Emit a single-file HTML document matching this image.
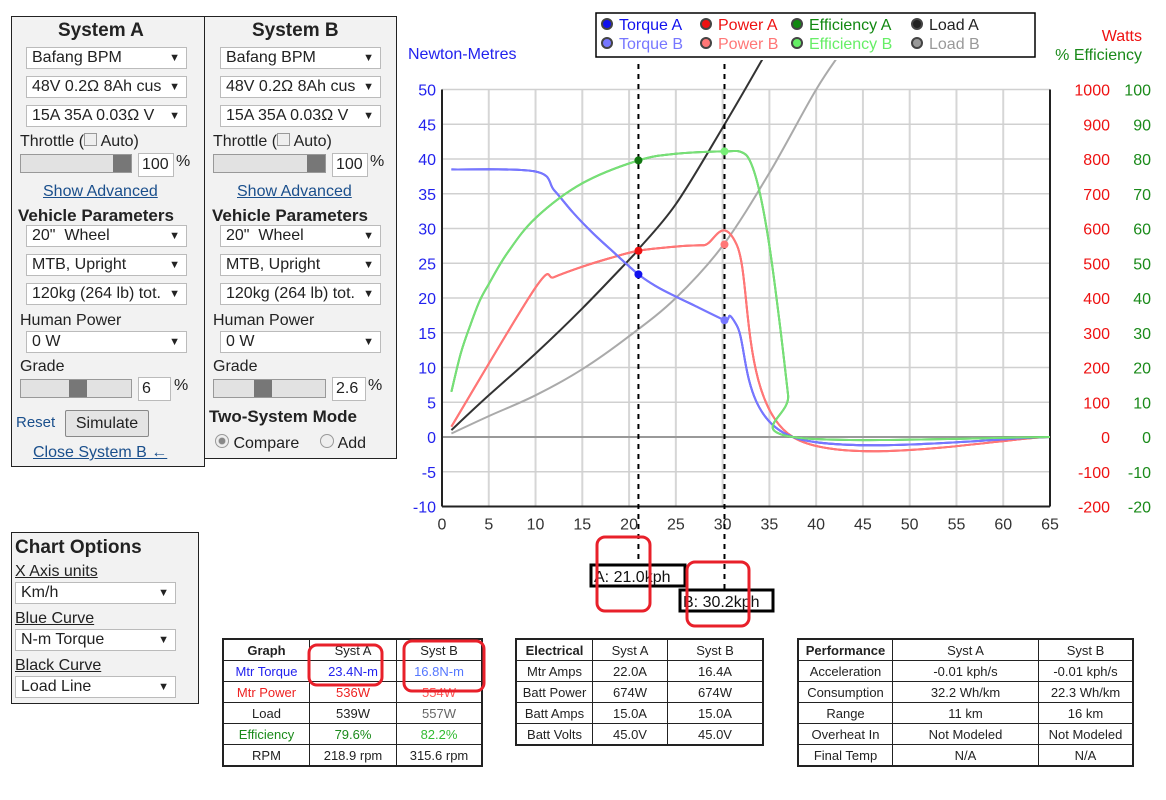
<!DOCTYPE html>
<html><head><meta charset="utf-8">
<style>
body{margin:0;width:1166px;height:800px;position:relative;background:#fff;font-family:"Liberation Sans",sans-serif;color:#222;overflow:hidden}
.abs{position:absolute}
.panel{position:absolute;background:#f2f2f2;border:1px solid #222;box-sizing:border-box}
.sel{position:absolute;height:22px;background:#fff;border:1px solid #bbb;box-sizing:border-box;font-size:16px;line-height:20px;padding-left:5px;white-space:nowrap;overflow:hidden}
.sel:after{content:"▼";position:absolute;right:6px;top:0;font-size:11px}
.lbl{position:absolute;font-size:16px;white-space:nowrap}
.h{position:absolute;font-weight:bold;white-space:nowrap}
.lnk{position:absolute;font-size:16px;color:#1a4f8c;text-decoration:underline;white-space:nowrap}
.slider{position:absolute;height:19px;background:#e2e2e2;border:1px solid #999;box-sizing:border-box}
.thumb{position:absolute;top:0;width:18px;height:17px;background:#777}
.inp{position:absolute;background:#fff;border:1px solid #bbb;box-sizing:border-box;font-size:16px;padding-left:3px;line-height:22px}
table{position:absolute;border-collapse:collapse;font-size:13px;background:#fff}
td{border:1px solid #222;text-align:center;height:20px;padding:0}
table{border:2px solid #222}
</style></head><body>

<div class="panel" style="left:11px;top:16px;width:194px;height:451px">
</div>
<div class="h" style="left:58px;top:20px;font-size:19px">System A</div>
<div class="sel" style="left:26px;top:47px;width:161px">Bafang BPM</div>
<div class="sel" style="left:26px;top:76px;width:161px">48V 0.2Ω 8Ah cus</div>
<div class="sel" style="left:26px;top:105px;width:161px">15A 35A 0.03Ω V</div>
<div class="lbl" style="left:20px;top:133px">Throttle (<span style="display:inline-block;width:11px;height:11px;border:1px solid #999;background:#eee"></span> Auto)</div>
<div class="slider" style="left:20px;top:154px;width:112px"><div class="thumb" style="left:92px"></div></div>
<div class="inp" style="left:138px;top:153px;width:36px;height:24px">100</div>
<div class="lbl" style="left:176px;top:153px">%</div>
<div class="lnk" style="left:43px;top:183px">Show Advanced</div>
<div class="h" style="left:18px;top:206px;font-size:17px">Vehicle Parameters</div>
<div class="sel" style="left:26px;top:225px;width:161px">20"&nbsp; Wheel</div>
<div class="sel" style="left:26px;top:254px;width:161px">MTB, Upright</div>
<div class="sel" style="left:26px;top:283px;width:161px">120kg (264 lb) tot.</div>
<div class="lbl" style="left:20px;top:312px">Human Power</div>
<div class="sel" style="left:26px;top:331px;width:161px">0 W</div>
<div class="lbl" style="left:20px;top:358px">Grade</div>
<div class="slider" style="left:20px;top:379px;width:112px"><div class="thumb" style="left:48px"></div></div>
<div class="inp" style="left:138px;top:377px;width:33px;height:24px">6</div>
<div class="lbl" style="left:174px;top:377px">%</div>
<div class="lnk" style="left:16px;top:414px;text-decoration:none;font-size:15px">Reset</div>
<div class="abs" style="left:65px;top:410px;width:84px;height:27px;border:1px solid #888;border-radius:2px;background:#e4e4e4;box-sizing:border-box;font-size:16px;text-align:center;line-height:25px">Simulate</div>
<div class="lnk" style="left:33px;top:444px">Close System B ←</div>

<div class="panel" style="left:204px;top:16px;width:193px;height:443px"></div>
<div class="h" style="left:252px;top:20px;font-size:19px">System B</div>
<div class="sel" style="left:220px;top:47px;width:161px">Bafang BPM</div>
<div class="sel" style="left:220px;top:76px;width:161px">48V 0.2Ω 8Ah cus</div>
<div class="sel" style="left:220px;top:105px;width:161px">15A 35A 0.03Ω V</div>
<div class="lbl" style="left:213px;top:133px">Throttle (<span style="display:inline-block;width:11px;height:11px;border:1px solid #999;background:#eee"></span> Auto)</div>
<div class="slider" style="left:213px;top:154px;width:113px"><div class="thumb" style="left:93px"></div></div>
<div class="inp" style="left:332px;top:153px;width:36px;height:24px">100</div>
<div class="lbl" style="left:370px;top:153px">%</div>
<div class="lnk" style="left:237px;top:183px">Show Advanced</div>
<div class="h" style="left:212px;top:206px;font-size:17px">Vehicle Parameters</div>
<div class="sel" style="left:220px;top:225px;width:161px">20"&nbsp; Wheel</div>
<div class="sel" style="left:220px;top:254px;width:161px">MTB, Upright</div>
<div class="sel" style="left:220px;top:283px;width:161px">120kg (264 lb) tot.</div>
<div class="lbl" style="left:213px;top:312px">Human Power</div>
<div class="sel" style="left:220px;top:331px;width:161px">0 W</div>
<div class="lbl" style="left:213px;top:358px">Grade</div>
<div class="slider" style="left:213px;top:379px;width:113px"><div class="thumb" style="left:40px"></div></div>
<div class="inp" style="left:332px;top:377px;width:34px;height:24px">2.6</div>
<div class="lbl" style="left:368px;top:377px">%</div>
<div class="h" style="left:209px;top:407px;font-size:17px">Two-System Mode</div>
<div class="lbl" style="left:215px;top:434px"><span style="display:inline-block;width:12px;height:12px;border-radius:50%;border:1px solid #999;background:radial-gradient(#888 35%,#eee 45%)"></span> Compare</div>
<div class="lbl" style="left:320px;top:434px"><span style="display:inline-block;width:12px;height:12px;border-radius:50%;border:1px solid #999;background:#eee"></span> Add</div>

<div class="panel" style="left:11px;top:532px;width:188px;height:172px"></div>
<div class="h" style="left:15px;top:537px;font-size:19px">Chart Options</div>
<div class="lbl" style="left:15px;top:563px;text-decoration:underline">X Axis units</div>
<div class="sel" style="left:15px;top:582px;width:161px">Km/h</div>
<div class="lbl" style="left:15px;top:610px;text-decoration:underline">Blue Curve</div>
<div class="sel" style="left:15px;top:629px;width:161px">N-m Torque</div>
<div class="lbl" style="left:15px;top:657px;text-decoration:underline">Black Curve</div>
<div class="sel" style="left:15px;top:676px;width:161px">Load Line</div>

<svg id="chart" class="abs" style="left:0;top:0" width="1166" height="800" font-family="Liberation Sans, sans-serif"></svg>

<table style="left:222px;top:638px;width:261px">
<tr><td style="width:85px"><b>Graph</b></td><td style="width:86px">Syst A</td><td>Syst B</td></tr>
<tr style="color:#2222ee"><td>Mtr Torque</td><td>23.4N-m</td><td style="color:#5577ff">16.8N-m</td></tr>
<tr style="color:#ee2222"><td>Mtr Power</td><td>536W</td><td style="color:#ff5555">554W</td></tr>
<tr><td>Load</td><td>539W</td><td style="color:#666">557W</td></tr>
<tr style="color:#1a8a1a"><td>Efficiency</td><td>79.6%</td><td style="color:#33bb33">82.2%</td></tr>
<tr><td>RPM</td><td>218.9 rpm</td><td>315.6 rpm</td></tr>
</table>
<table style="left:515px;top:638px;width:249px">
<tr><td style="width:75px"><b>Electrical</b></td><td style="width:74px">Syst A</td><td>Syst B</td></tr>
<tr><td>Mtr Amps</td><td>22.0A</td><td>16.4A</td></tr>
<tr><td>Batt Power</td><td>674W</td><td>674W</td></tr>
<tr><td>Batt Amps</td><td>15.0A</td><td>15.0A</td></tr>
<tr><td>Batt Volts</td><td>45.0V</td><td>45.0V</td></tr>
</table>
<table style="left:797px;top:638px;width:337px">
<tr><td style="width:93px"><b>Performance</b></td><td style="width:145px">Syst A</td><td>Syst B</td></tr>
<tr><td>Acceleration</td><td>-0.01 kph/s</td><td>-0.01 kph/s</td></tr>
<tr><td>Consumption</td><td>32.2 Wh/km</td><td>22.3 Wh/km</td></tr>
<tr><td>Range</td><td>11 km</td><td>16 km</td></tr>
<tr><td>Overheat In</td><td>Not Modeled</td><td>Not Modeled</td></tr>
<tr><td>Final Temp</td><td>N/A</td><td>N/A</td></tr>
</table>

<svg class="abs" style="left:0;top:0;pointer-events:none" width="1166" height="800">
<g fill="none" stroke="#e8202a" stroke-width="3">
<rect x="597" y="537" width="53" height="74" rx="8"/>
<rect x="687" y="562" width="62" height="64" rx="8"/>
<rect x="309" y="645" width="73" height="40" rx="8"/>
<rect x="404" y="641" width="80" height="50" rx="8"/>
</g></svg>

<script>
const xTicks=[0,5,10,15,20,25,30,35,40,45,50,55,60,65];
const yTicks=[-10,-5,0,5,10,15,20,25,30,35,40,45,50];
const wattTicks=[-200,-100,0,100,200,300,400,500,600,700,800,900,1000];
const effTicks=[-20,-10,0,10,20,30,40,50,60,70,80,90,100];
const torqueX=[1,10,12,14,16,18,21,23,25,27,30.2,31.5,37.5,65];
const torqueY=[38.5,38.2,35.5,32.3,29.5,27,23.4,21.6,20.2,18.9,16.8,16.1,0,0];
const powerX=[1,10,12,15,18,21,25,28,31.5,37.5,65];
const powerW=[30,430,460,490,515,536,548,552,554,0,0];
const effX=[1,2,3,4,5,7,10,15,21,25,30.2,32,33,34,35,36,37,37.5,65];
const effP=[13,24,32,39,44,53,63,73,79.6,81.5,82.2,82,79,70,55,35,12,0,0];
const loadAX=[1,5,10,15,20,21,25,30,34,36];
const loadAW=[20,120,240,370,510,540,670,890,1075,1170];
const loadBX=[1,5,10,15,20,25,30,35,40,43];
const loadBW=[10,60,120,195,290,400,550,760,1000,1120];
const markerA=21.0, markerB=30.2;
const dotsA=[23.4,536,79.6]; const dotsB=[16.8,554,82.2];

const NS="http://www.w3.org/2000/svg";
const svg=document.getElementById('chart');
const X=v=>442+v*(608/65);
const Y=v=>437-v*(417/60);
const YW=w=>Y(w/20);
const YE=e=>Y(e/2);
function mk(tag,attrs,parent){const e=document.createElementNS(NS,tag);for(const k in attrs)e.setAttribute(k,attrs[k]);(parent||svg).appendChild(e);return e;}
const defs=mk('defs',{});const cp=mk('clipPath',{id:'clip'},defs);mk('rect',{x:442,y:60,width:608,height:450},cp);

xTicks.forEach(t=>{const l=mk('line',{x1:X(t),x2:X(t),y1:Y(50),y2:Y(-10),stroke:'#d6d6d6','stroke-width':2});


const tx=mk('text',{x:X(t),y:Y(-10)+23,'text-anchor':'middle','font-size':16,fill:'#333'});tx.textContent=t;

});
yTicks.forEach((t,i)=>{const l=mk('line',{x1:X(0),x2:X(65),y1:Y(t),y2:Y(t),stroke:t==0?'#999':'#d0d0d0','stroke-width':t==0?2:1.5});


const tx=mk('text',{x:436,y:Y(t)+6,'text-anchor':'end','font-size':16,fill:'#2222ee'});tx.textContent=t;


const tw=mk('text',{x:1110,y:Y(t)+6,'text-anchor':'end','font-size':16,fill:'#ee1111'});tw.textContent=wattTicks[i];


const te=mk('text',{x:1151,y:Y(t)+6,'text-anchor':'end','font-size':16,fill:'#1a8a1a'});te.textContent=effTicks[i];

});
mk('line',{x1:X(0),x2:X(0),y1:Y(50),y2:Y(-10),stroke:'#222','stroke-width':2});
mk('line',{x1:X(65),x2:X(65),y1:Y(50),y2:Y(-10),stroke:'#222','stroke-width':2});
mk('line',{x1:X(0),x2:X(65),y1:Y(-10),y2:Y(-10),stroke:'#222','stroke-width':2});
[['Newton-Metres',408,59,'#2222ee','start'],['Watts',1142,41,'#ee1111','end'],['% Efficiency',1142,60,'#1a8a1a','end']].forEach(a=>{const t=mk('text',{x:a[1],y:a[2],'font-size':16,fill:a[3],'text-anchor':a[4]});t.textContent=a[0];

});

function line(xs,ys,fy,color,name){
const P=xs.map((x,i)=>[X(x),fy(ys[i])]);
let d='M'+P[0][0].toFixed(1)+','+P[0][1].toFixed(1);
for(let i=0;i<P.length-1;i++){const p0=P[Math.max(0,i-1)],p1=P[i],p2=P[i+1],p3=P[Math.min(P.length-1,i+2)];
const c1=[p1[0]+(p2[0]-p0[0])/6,p1[1]+(p2[1]-p0[1])/6],c2=[p2[0]-(p3[0]-p1[0])/6,p2[1]-(p3[1]-p1[1])/6];
d+=' C'+c1[0].toFixed(1)+','+c1[1].toFixed(1)+' '+c2[0].toFixed(1)+','+c2[1].toFixed(1)+' '+p2[0].toFixed(1)+','+p2[1].toFixed(1);}
const p=mk('path',{d:d,fill:'none',stroke:color,'stroke-width':2,'clip-path':'url(#clip)'});

}
line(loadBX,loadBW,YW,'#aaaaaa','load-b-line');
line(loadAX,loadAW,YW,'#333333','load-a-line');
line(powerX,powerW,YW,'#ff2222','power-a-line');
line(powerX,powerW,YW,'#ff7777','power-b-line');
line(torqueX,torqueY,Y,'#2222ee','torque-a-line');
line(torqueX,torqueY,Y,'#7777ff','torque-b-line');
line(effX,effP,YE,'#22aa22','efficiency-a-line');
line(effX,effP,YE,'#77e077','efficiency-b-line');

[[markerA,64,'marker-a'],[markerB,64,'marker-b']].forEach(m=>{const l=mk('line',{x1:X(m[0]),x2:X(m[0]),y1:m[1],y2:m[0]==markerA?565:590,stroke:'#000','stroke-width':2,'stroke-dasharray':'5,5'});

});
function dot(x,y,c,n){const d=mk('circle',{cx:X(x),cy:y,r:4,fill:c});

}
dot(markerA,Y(dotsA[0]),'#1111ee','torque-a-dot');dot(markerA,YW(dotsA[1]),'#ee1111','power-a-dot');dot(markerA,YE(dotsA[2]),'#117711','efficiency-a-dot');
dot(markerB,Y(dotsB[0]),'#7777ff','torque-b-dot');dot(markerB,YW(dotsB[1]),'#ff7777','power-b-dot');dot(markerB,YE(dotsB[2]),'#77ee77','efficiency-b-dot');

function box(x,y,w,txt,n){const r=mk('rect',{x:x,y:y,width:w,height:21,fill:'#fff',stroke:'#000','stroke-width':3});


const t=mk('text',{x:x+3,y:y+17,'font-size':16,fill:'#111'});t.textContent=txt;

}
box(591,565,94,'A: '+markerA.toFixed(1)+'kph','marker-a-label');
box(680,590,93,'B: '+markerB.toFixed(1)+'kph','marker-b-label');

const lg=mk('rect',{x:596,y:13,width:439,height:44,fill:'#fff',stroke:'#000','stroke-width':1.5});


const legItems=[['Torque A',607,24,'#1111ee'],['Power A',706,24,'#ee1111'],['Efficiency A',797,24,'#118811'],['Load A',917,24,'#222'],
['Torque B',607,43,'#7777ff'],['Power B',706,43,'#ff7777'],['Efficiency B',797,43,'#66ee66'],['Load B',917,43,'#999']];
legItems.forEach(it=>{const c=mk('circle',{cx:it[1],cy:it[2],r:5,fill:it[3],stroke:'#444','stroke-width':2});


const t=mk('text',{x:it[1]+12,y:it[2]+6,'font-size':16,fill:it[3]});t.textContent=it[0];

});
</script>
</body></html>
